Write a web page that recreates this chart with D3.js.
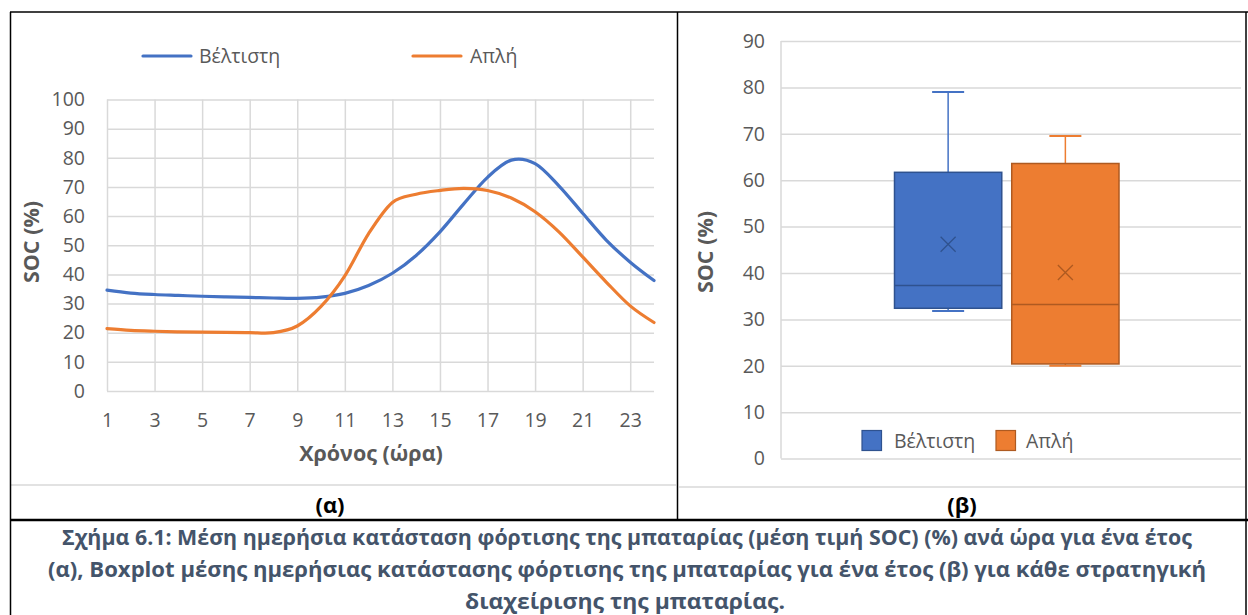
<!DOCTYPE html>
<html>
<head>
<meta charset="utf-8">
<script src="https://cdn.jsdelivr.net/npm/d3@7"></script>
<style>
  html, body { margin: 0; padding: 0; background: #ffffff; }
  svg { display: block; font-family: "Open Sans", "Noto Sans", sans-serif; }
</style>
</head>
<body>
<svg id="chart" width="1248" height="615"></svg>
<script>
// ---------- DATA ----------
const hours = [1,2,3,4,5,6,7,8,9,10,11,12,13,14,15,16,17,18,19,20,21,22,23,24];
const seriesNames = ["Βέλτιστη", "Απλή"];
const optimalSOC = [34.6,33.6,33.1,32.8,32.5,32.3,32.1,31.9,31.8,32.2,33.5,36.2,40.4,46.5,54.6,64.2,73.3,79.2,78.0,70.4,61.0,51.7,44.2,37.9];
const simpleSOC  = [21.4,20.8,20.5,20.3,20.2,20.1,20.0,20.0,22.3,29.0,39.5,54.0,64.7,67.5,68.8,69.5,68.8,66.2,61.5,54.6,46.0,37.3,29.2,23.5];
const xTickLabels = [1,3,5,7,9,11,13,15,17,19,21,23];
const yTicksLeft = [0,10,20,30,40,50,60,70,80,90,100];
const yTicksRight = [0,10,20,30,40,50,60,70,80,90];
// box plot statistics (Βέλτιστη, Απλή)
const boxMin    = [31.8, 20.0];
const boxQ1     = [32.4, 20.4];
const boxMedian = [37.3, 33.2];
const boxQ3     = [61.7, 63.6];
const boxMax    = [79.0, 69.5];
const boxMean   = [46.2, 40.1];
const panelLabels = ["(α)", "(β)"];
const captionLines = [
  "Σχήμα 6.1: Μέση ημερήσια κατάσταση φόρτισης της μπαταρίας (μέση τιμή SOC) (%) ανά ώρα για ένα έτος",
  "(α),  Boxplot μέσης ημερήσιας κατάστασης φόρτισης της μπαταρίας για ένα έτος (β) για κάθε στρατηγική",
  "διαχείρισης της μπαταρίας."
];

// ---------- STYLE ----------
const colors = ["#4472C4", "#ED7D31"];
const darkColors = ["#2F528F", "#AE5A21"];
const gridColor = "#D9D9D9";
const textColor = "#595959";
const tickFont = 19.5;

const svg = d3.select("#chart");

// ---------- TABLE FRAME ----------
svg.append("line").attr("x1", 679).attr("x2", 1245).attr("y1", 487).attr("y2", 487).attr("stroke", gridColor).attr("stroke-width", 1.5);
svg.append("line").attr("x1", 10).attr("x2", 676).attr("y1", 485).attr("y2", 485).attr("stroke", gridColor).attr("stroke-width", 1.5);
const frame = svg.append("g").attr("stroke", "#000");
frame.append("line").attr("x1", 10).attr("x2", 1248).attr("y1", 12).attr("y2", 12).attr("stroke-width", 1.5);
frame.append("line").attr("x1", 10.5).attr("x2", 10.5).attr("y1", 12).attr("y2", 615).attr("stroke-width", 1.5);
frame.append("line").attr("x1", 677.5).attr("x2", 677.5).attr("y1", 12).attr("y2", 520).attr("stroke-width", 1.5);
frame.append("line").attr("x1", 1246).attr("x2", 1246).attr("y1", 12).attr("y2", 615).attr("stroke-width", 1.5);
frame.append("line").attr("x1", 10).attr("x2", 1248).attr("y1", 520).attr("y2", 520).attr("stroke-width", 2.5);

// ---------- LEFT CHART (line) ----------
const xL = d3.scaleLinear().domain([1, 24]).range([107, 654]);
const yL = d3.scaleLinear().domain([0, 100]).range([391, 99.5]);
const left = svg.append("g");

// gridlines
const gy = left.append("g").attr("transform", `translate(${xL(1)},0)`)
  .call(d3.axisLeft(yL).tickValues(yTicksLeft).tickSize(-(xL(24) - xL(1))).tickFormat(""));
gy.select(".domain").remove();
gy.selectAll(".tick line").attr("stroke", gridColor).attr("stroke-width", 1.5);
const gx = left.append("g").attr("transform", `translate(0,${yL(0)})`)
  .call(d3.axisBottom(xL).tickValues(xTickLabels).tickSize(-(yL(0) - yL(100))).tickFormat(""));
gx.select(".domain").remove();
gx.selectAll(".tick line").attr("stroke", gridColor).attr("stroke-width", 1.5);

// tick labels
const ly = left.append("g").attr("transform", `translate(${xL(1) - 22},0)`)
  .call(d3.axisLeft(yL).tickValues(yTicksLeft).tickSize(0).tickPadding(0));
ly.select(".domain").remove();
ly.selectAll("text").attr("fill", textColor).attr("font-size", tickFont).attr("font-family", "Open Sans");
const lx = left.append("g").attr("transform", `translate(0,${yL(0) + 22})`)
  .call(d3.axisBottom(xL).tickValues(xTickLabels).tickSize(0).tickPadding(0));
lx.select(".domain").remove();
lx.selectAll("text").attr("fill", textColor).attr("font-size", tickFont).attr("font-family", "Open Sans");

// lines
const lineGen = d3.line().x((d, i) => xL(hours[i])).y(d => yL(d)).curve(d3.curveCardinal.tension(0));
[optimalSOC, simpleSOC].forEach((s, k) => {
  left.append("path").datum(s).attr("d", lineGen).attr("fill", "none")
    .attr("stroke", colors[k]).attr("stroke-width", 3.2).attr("stroke-linecap", "round");
});

// axis titles
left.append("text").attr("x", 371).attr("y", 461).attr("text-anchor", "middle")
  .attr("font-weight", "bold").attr("font-size", 21.5).attr("fill", textColor).text("Χρόνος (ώρα)");
left.append("text").attr("transform", "translate(38.5,242) rotate(-90)").attr("text-anchor", "middle")
  .attr("font-weight", "bold").attr("font-size", 21.5).attr("fill", textColor).text("SOC (%)");

// legend
const legL = [{x: 143, tx: 199}, {x: 413, tx: 470}];
seriesNames.forEach((n, k) => {
  left.append("line").attr("x1", legL[k].x).attr("x2", legL[k].x + 48).attr("y1", 56).attr("y2", 56)
    .attr("stroke", colors[k]).attr("stroke-width", 3.2).attr("stroke-linecap", "round");
  left.append("text").attr("x", legL[k].tx).attr("y", 63).attr("font-size", tickFont)
    .attr("fill", textColor).text(n);
});

// ---------- RIGHT CHART (box plot) ----------
const yR = d3.scaleLinear().domain([0, 90]).range([458.6, 41]);
const xR = d3.scaleBand().domain(seriesNames).range([894.5, 1119]).paddingInner(0.085);
const right = svg.append("g");
const plotL = 781, plotR = 1241;

const gr = right.append("g").attr("transform", `translate(${plotL},0)`)
  .call(d3.axisLeft(yR).tickValues(yTicksRight).tickSize(-(plotR - plotL)).tickFormat(""));
gr.select(".domain").remove();
gr.selectAll(".tick line").attr("stroke", gridColor).attr("stroke-width", 1.5);
right.append("line").attr("x1", plotL).attr("x2", plotL).attr("y1", yR(90)).attr("y2", yR(0))
  .attr("stroke", gridColor).attr("stroke-width", 1.5);

const ry = right.append("g").attr("transform", `translate(${plotL - 16},0)`)
  .call(d3.axisLeft(yR).tickValues(yTicksRight).tickSize(0).tickPadding(0));
ry.select(".domain").remove();
ry.selectAll("text").attr("fill", textColor).attr("font-size", tickFont).attr("font-family", "Open Sans");

right.append("text").attr("transform", "translate(712.5,252) rotate(-90)").attr("text-anchor", "middle")
  .attr("font-weight", "bold").attr("font-size", 21.5).attr("fill", textColor).text("SOC (%)");

seriesNames.forEach((n, k) => {
  const x0 = xR(n), bw = xR.bandwidth(), cx = x0 + bw / 2, cap = 16;
  const g = right.append("g");
  // whiskers
  g.append("line").attr("x1", cx).attr("x2", cx).attr("y1", yR(boxMax[k])).attr("y2", yR(boxQ3[k]))
    .attr("stroke", colors[k]).attr("stroke-width", 1.5);
  g.append("line").attr("x1", cx).attr("x2", cx).attr("y1", yR(boxQ1[k])).attr("y2", yR(boxMin[k]))
    .attr("stroke", colors[k]).attr("stroke-width", 1.5);
  g.append("line").attr("x1", cx - cap).attr("x2", cx + cap).attr("y1", yR(boxMax[k])).attr("y2", yR(boxMax[k]))
    .attr("stroke", colors[k]).attr("stroke-width", 2);
  g.append("line").attr("x1", cx - cap).attr("x2", cx + cap).attr("y1", yR(boxMin[k])).attr("y2", yR(boxMin[k]))
    .attr("stroke", colors[k]).attr("stroke-width", 2);
  // box
  g.append("rect").attr("x", x0).attr("width", bw).attr("y", yR(boxQ3[k]))
    .attr("height", yR(boxQ1[k]) - yR(boxQ3[k]))
    .attr("fill", colors[k]).attr("stroke", darkColors[k]).attr("stroke-width", 1.5);
  // median
  g.append("line").attr("x1", x0).attr("x2", x0 + bw).attr("y1", yR(boxMedian[k])).attr("y2", yR(boxMedian[k]))
    .attr("stroke", darkColors[k]).attr("stroke-width", 1.5);
  // mean marker
  const my = yR(boxMean[k]), m = 7.5;
  g.append("path").attr("d", `M${cx - m},${my - m}L${cx + m},${my + m}M${cx - m},${my + m}L${cx + m},${my - m}`)
    .attr("stroke", darkColors[k]).attr("stroke-width", 1.3).attr("fill", "none");
});

// legend
const legR = [{x: 862, tx: 894}, {x: 996, tx: 1026}];
seriesNames.forEach((n, k) => {
  right.append("rect").attr("x", legR[k].x).attr("y", 430.5).attr("width", 19.5).attr("height", 20)
    .attr("fill", colors[k]).attr("stroke", darkColors[k]).attr("stroke-width", 1.2);
  right.append("text").attr("x", legR[k].tx).attr("y", 448).attr("font-size", tickFont)
    .attr("fill", textColor).text(n);
});

// ---------- PANEL LABELS & CAPTION ----------
[330, 962].forEach((x, i) => {
  svg.append("text").attr("x", x).attr("y", 513).attr("text-anchor", "middle")
    .attr("font-weight", "bold").attr("font-size", 22).attr("fill", "#000").text(panelLabels[i]);
});
const capX = [62, 48, 465], capW = [1130, 1158, 320], capY = [545, 577, 609];
captionLines.forEach((t, i) => {
  svg.append("text").attr("x", capX[i]).attr("y", capY[i]).attr("font-weight", "bold")
    .attr("font-size", 22).attr("fill", "#44546A")
    .attr("textLength", capW[i]).attr("lengthAdjust", "spacingAndGlyphs").text(t);
});
</script>
</body>
</html>
